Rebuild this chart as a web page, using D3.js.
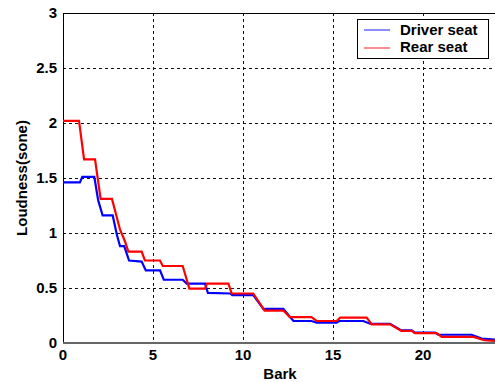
<!DOCTYPE html>
<html>
<head>
<meta charset="utf-8">
<script src="https://cdn.jsdelivr.net/npm/d3@7"></script>
<style>
body { margin: 0; background: #fff; }
text { font-family: "Liberation Sans", Arial, sans-serif; }
</style>
</head>
<body>
<svg id="chart" width="495" height="382"></svg>
<script>
// vertices (bark, sone)
const driverBark = [0, 0.94, 1.07, 1.74, 1.95, 2.2, 2.76, 3.0, 3.17, 3.4, 3.67, 4.37, 4.6, 5.39, 5.6, 6.65, 6.87, 7.89, 8.05, 9.3, 9.4, 10.57, 11.13, 12.24, 12.8, 13.8, 14.09, 15.2, 15.35, 16.68, 17.06, 18.17, 18.8, 19.37, 19.55, 20.67, 20.85, 22.7, 23.26, 24];
const driverSone = [1.46, 1.46, 1.51, 1.51, 1.3, 1.16, 1.16, 0.98, 0.88, 0.88, 0.75, 0.74, 0.66, 0.66, 0.575, 0.575, 0.54, 0.54, 0.455, 0.45, 0.435, 0.435, 0.31, 0.31, 0.2, 0.2, 0.185, 0.185, 0.2, 0.2, 0.175, 0.175, 0.115, 0.115, 0.095, 0.095, 0.075, 0.075, 0.04, 0.03];

const rearBark = [0, 0.89, 1.17, 1.78, 2.09, 2.72, 3.17, 3.44, 3.63, 4.37, 4.55, 5.39, 5.54, 6.65, 7.02, 7.89, 8.0, 9.19, 9.37, 10.57, 11.2, 12.24, 12.6, 13.8, 14.09, 15.2, 15.4, 16.87, 17.15, 18.17, 18.8, 19.37, 19.55, 20.76, 21.04, 22.8, 23.4, 24];
const rearSone = [2.02, 2.02, 1.67, 1.67, 1.31, 1.31, 1.03, 0.925, 0.83, 0.83, 0.75, 0.75, 0.70, 0.70, 0.495, 0.495, 0.54, 0.54, 0.45, 0.45, 0.295, 0.295, 0.235, 0.235, 0.2, 0.2, 0.23, 0.23, 0.17, 0.17, 0.11, 0.11, 0.09, 0.09, 0.055, 0.055, 0.025, 0.02];

const xTicks = [0, 5, 10, 15, 20];
const yTicks = [0, 0.5, 1, 1.5, 2, 2.5, 3];
const seriesNames = ["Driver seat", "Rear seat"];
const seriesColors = ["#0000ff", "#ff0000"];

var svg = d3.select('#chart');
const margin = {top: 13, bottom: 39, left: 63, right: 0};
const W = +svg.attr('width');
const H = +svg.attr('height');

const Xscale = d3.scaleLinear().domain([0, 24]).range([margin.left, W - margin.right]);
const Yscale = d3.scaleLinear().domain([0, 3]).range([H - margin.bottom, margin.top]);

// grid
svg.append('g').selectAll('line').data(xTicks.filter(d => d > 0))
    .enter().append('line')
        .attr('x1', d => Math.round(Xscale(d)) + 0.5)
        .attr('x2', d => Math.round(Xscale(d)) + 0.5)
        .attr('y1', Yscale(3))
        .attr('y2', Yscale(0))
        .style('stroke', '#111')
        .style('stroke-dasharray', '3,3');

svg.append('g').selectAll('line').data(yTicks.filter(d => d > 0 && d < 3))
    .enter().append('line')
        .attr('x1', Xscale(0))
        .attr('x2', Xscale(24))
        .attr('y1', d => Math.round(Yscale(d)) + 0.5)
        .attr('y2', d => Math.round(Yscale(d)) + 0.5)
        .style('stroke', '#111')
        .style('stroke-dasharray', '3,3');

// axes box
svg.append('line').attr('x1', Xscale(0)).attr('x2', Xscale(24))
    .attr('y1', Math.round(Yscale(3)) + 0.5).attr('y2', Math.round(Yscale(3)) + 0.5)
    .style('stroke', '#000');
svg.append('line').attr('x1', Math.round(Xscale(0)) + 0.5).attr('x2', Math.round(Xscale(0)) + 0.5)
    .attr('y1', Yscale(3)).attr('y2', Yscale(0))
    .style('stroke', '#000');

// lines
const lineGen = d3.line().x(d => Xscale(d[0])).y(d => Yscale(d[1]));
const driverPts = driverBark.map((b, i) => [b, driverSone[i]]);
const rearPts = rearBark.map((b, i) => [b, rearSone[i]]);

svg.append('path').datum(driverPts)
    .attr('d', lineGen)
    .style('fill', 'none')
    .style('stroke', seriesColors[0])
    .style('stroke-width', 2.2);

svg.append('path').datum(rearPts)
    .attr('d', lineGen)
    .style('fill', 'none')
    .style('stroke', seriesColors[1])
    .style('stroke-width', 2.2);

// bottom axis line (grey, as in the original)
svg.append('line').attr('x1', Xscale(0)).attr('x2', Xscale(24))
    .attr('y1', Yscale(0)).attr('y2', Yscale(0))
    .style('stroke', '#666')
    .style('stroke-width', 2);

// tick labels
svg.append('g').selectAll('text').data(xTicks)
    .enter().append('text')
        .attr('x', d => Xscale(d))
        .attr('y', H - margin.bottom + 17)
        .attr('text-anchor', 'middle')
        .style('font-size', '15px')
        .style('font-weight', 'bold')
        .text(d => d);

svg.append('g').selectAll('text').data(yTicks)
    .enter().append('text')
        .attr('x', margin.left - 6)
        .attr('y', d => Yscale(d) + 5)
        .attr('text-anchor', 'end')
        .style('font-size', '15px')
        .style('font-weight', 'bold')
        .text(d => d);

// axis titles
svg.append('text').text('Bark')
    .attr('x', 280)
    .attr('y', 379)
    .attr('text-anchor', 'middle')
    .style('font-size', '15px')
    .style('font-weight', 'bold');

svg.append('text').text('Loudness(sone)')
    .attr('transform', 'translate(27,' + ((Yscale(0) + Yscale(3)) / 2) + ') rotate(-90)')
    .attr('text-anchor', 'middle')
    .style('font-size', '15px')
    .style('font-weight', 'bold');

// legend
var legend = svg.append('g');
legend.append('rect')
    .attr('x', 357.5).attr('y', 19.5).attr('width', 131).attr('height', 39)
    .style('fill', '#fff').style('stroke', '#000');

seriesNames.forEach((name, i) => {
    legend.append('line')
        .attr('x1', 364).attr('x2', 390)
        .attr('y1', 30 + i * 18).attr('y2', 30 + i * 18)
        .style('stroke', seriesColors[i])
        .style('stroke-width', 1.2)
        .style('opacity', 0.75);
    legend.append('text').text(name)
        .attr('x', 400)
        .attr('y', 35 + i * 17)
        .style('font-size', '15px')
        .style('font-weight', 'bold');
});
</script>
</body>
</html>
